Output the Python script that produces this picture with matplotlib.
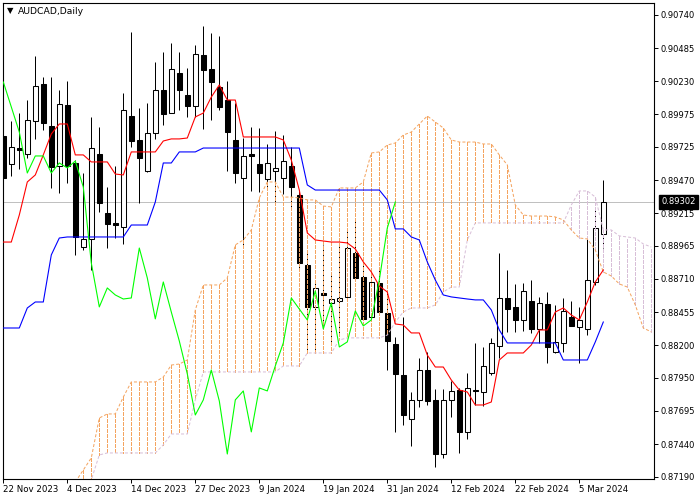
import matplotlib
matplotlib.use("Agg")
import matplotlib.pyplot as plt

# AUDCAD daily candles, 22 Nov 2023 .. 8 Mar 2024 (bar index 0..75)
opens = [0.89810, 0.89594, 0.89717, 0.89671, 0.89925, 0.90209, 0.89886, 0.89579, 0.90048, 0.89602,
         0.88956, 0.89018, 0.89671, 0.89218, 0.89141, 0.89110, 0.89963, 0.89779, 0.89540, 0.89833,
         0.90163, 0.89986, 0.90294, 0.90125, 0.90040, 0.90432, 0.90325, 0.90186, 0.90086, 0.89779,
         0.89487, 0.89671, 0.89594, 0.89479, 0.89540, 0.89487, 0.89579, 0.89356, 0.88818, 0.88495,
         0.88602, 0.88526, 0.88541, 0.88572, 0.88910, 0.88725, 0.88418, 0.88679, 0.88449, 0.88210,
         0.87972, 0.87634, 0.87780, 0.88010, 0.87780, 0.87364, 0.87780, 0.87856, 0.87534, 0.87856,
         0.87841, 0.87987, 0.88195, 0.88564, 0.88495, 0.88395, 0.88541, 0.88326, 0.88518, 0.88149,
         0.88218, 0.88418, 0.88341, 0.88326, 0.88687, 0.89056]
highs = [0.90132, 0.89925, 0.89986, 0.90086, 0.90425, 0.90263, 0.90263, 0.90163, 0.90232, 0.89625,
         0.89525, 0.89956, 0.89879, 0.89417, 0.89579, 0.90140, 0.90609, 0.90025, 0.90063, 0.90379,
         0.90455, 0.90525, 0.90455, 0.90332, 0.90509, 0.90655, 0.90602, 0.90579, 0.90232, 0.90063,
         0.89794, 0.89879, 0.89871, 0.89748, 0.89848, 0.89817, 0.89725, 0.89394, 0.88918, 0.88679,
         0.88972, 0.88764, 0.88987, 0.89095, 0.89164, 0.88818, 0.88741, 0.88795, 0.88626, 0.88264,
         0.88418, 0.87841, 0.88103, 0.88149, 0.87864, 0.87864, 0.87926, 0.87872, 0.87987, 0.88218,
         0.88187, 0.88256, 0.88910, 0.88779, 0.88672, 0.88679, 0.88702, 0.88572, 0.88610, 0.88510,
         0.88564, 0.88541, 0.88495, 0.89023, 0.89241, 0.89471]
lows = [0.89471, 0.89502, 0.89556, 0.89640, 0.89787, 0.89856, 0.89410, 0.89371, 0.89448, 0.88895,
        0.88933, 0.88779, 0.89225, 0.88948, 0.89025, 0.88979, 0.89725, 0.89294, 0.89533, 0.89787,
        0.89894, 0.89986, 0.90010, 0.89956, 0.89956, 0.89863, 0.89933, 0.90010, 0.89540, 0.89448,
        0.88972, 0.89387, 0.89379, 0.89410, 0.89287, 0.89364, 0.89256, 0.88779, 0.88164, 0.88164,
        0.88356, 0.88218, 0.88295, 0.88564, 0.88702, 0.88395, 0.88395, 0.88449, 0.88010, 0.87534,
        0.87587, 0.87426, 0.87726, 0.87741, 0.87264, 0.87334, 0.87649, 0.87372, 0.87480, 0.87741,
        0.87734, 0.87972, 0.88103, 0.88303, 0.88303, 0.88310, 0.88295, 0.88218, 0.88064, 0.88141,
        0.88149, 0.88349, 0.88064, 0.88279, 0.88664, 0.88948]
closes = [0.89487, 0.89725, 0.89702, 0.89933, 0.90194, 0.89910, 0.89571, 0.90056, 0.89579, 0.89033,
          0.89018, 0.89717, 0.89294, 0.89133, 0.89125, 0.90010, 0.89771, 0.89640, 0.89833, 0.90163,
          0.89979, 0.90325, 0.90163, 0.90040, 0.90440, 0.90317, 0.90225, 0.90033, 0.89840, 0.89525,
          0.89656, 0.89656, 0.89525, 0.89602, 0.89564, 0.89617, 0.89417, 0.88833, 0.88495, 0.88641,
          0.88587, 0.88556, 0.88564, 0.88948, 0.88718, 0.88403, 0.88687, 0.88456, 0.88233, 0.87980,
          0.87664, 0.87780, 0.88010, 0.87772, 0.87364, 0.87780, 0.87849, 0.87534, 0.87872, 0.87849,
          0.88041, 0.88218, 0.88564, 0.88479, 0.88395, 0.88618, 0.88326, 0.88526, 0.88187, 0.88226,
          0.88464, 0.88349, 0.88395, 0.88702, 0.89102, 0.89302]

# Ichimoku lines as drawn on the chart
tenkan = [0.88994, 0.88994, 0.89202, 0.89456, 0.89510, 0.89664, 0.89825, 0.89902, 0.89902, 0.89664,
          0.89664, 0.89610, 0.89610, 0.89610, 0.89517, 0.89510, 0.89687, 0.89687, 0.89687, 0.89687,
          0.89771, 0.89787, 0.89787, 0.89794, 0.89956, 0.89986, 0.90109, 0.90202, 0.90086, 0.90086,
          0.89802, 0.89802, 0.89802, 0.89802, 0.89802, 0.89779, 0.89625, 0.89394, 0.89064, 0.89010,
          0.89002, 0.88994, 0.88994, 0.88987, 0.88941, 0.88841, 0.88764, 0.88656, 0.88610, 0.88364,
          0.88356, 0.88295, 0.88295, 0.88125, 0.88033, 0.88033, 0.87933, 0.87856, 0.87841, 0.87741,
          0.87741, 0.87764, 0.88087, 0.88141, 0.88141, 0.88141, 0.88202, 0.88318, 0.88318, 0.88456,
          0.88487, 0.88433, 0.88395, 0.88533, 0.88687, 0.88779]
kijun = [0.88333, 0.88333, 0.88333, 0.88487, 0.88533, 0.88533, 0.88895, 0.89025, 0.89033, 0.89033,
         0.89033, 0.89033, 0.89033, 0.89033, 0.89033, 0.89033, 0.89125, 0.89125, 0.89125, 0.89302,
         0.89602, 0.89602, 0.89687, 0.89687, 0.89687, 0.89717, 0.89717, 0.89717, 0.89717, 0.89717,
         0.89717, 0.89717, 0.89717, 0.89717, 0.89717, 0.89717, 0.89717, 0.89717, 0.89433, 0.89394,
         0.89394, 0.89394, 0.89394, 0.89394, 0.89394, 0.89394, 0.89394, 0.89394, 0.89318, 0.89095,
         0.89095, 0.89033, 0.89010, 0.88841, 0.88702, 0.88587, 0.88572, 0.88564, 0.88556, 0.88549,
         0.88549, 0.88472, 0.88318, 0.88218, 0.88218, 0.88218, 0.88218, 0.88218, 0.88218, 0.88218,
         0.88087, 0.88087, 0.88087, 0.88087, 0.88226, 0.88379]

# Senkou spans, visible from bar 9 to bar 81 (26 bars ahead of price)
cloud_start = 9
span_a = [0.87149, 0.87241, 0.87334, 0.87641, 0.87672, 0.87672, 0.87802, 0.87918, 0.87918, 0.87918,
          0.87918, 0.87956, 0.88048, 0.88056, 0.88087, 0.88472, 0.88664, 0.88664, 0.88664, 0.88718,
          0.88972, 0.89010, 0.89087, 0.89333, 0.89456, 0.89456, 0.89340, 0.89340, 0.89333, 0.89318,
          0.89318, 0.89271, 0.89264, 0.89410, 0.89410, 0.89410, 0.89456, 0.89679, 0.89687, 0.89740,
          0.89756, 0.89817, 0.89840, 0.89902, 0.89963, 0.89917, 0.89871, 0.89779, 0.89763, 0.89763,
          0.89763, 0.89748, 0.89748, 0.89664, 0.89587, 0.89279, 0.89202, 0.89194, 0.89194, 0.89194,
          0.89187, 0.89164, 0.89087, 0.89025, 0.89018, 0.88933, 0.88764, 0.88733, 0.88672, 0.88648,
          0.88510, 0.88333, 0.88303]
span_b = [0.86933, 0.87010, 0.87165, 0.87357, 0.87372, 0.87372, 0.87372, 0.87372, 0.87372, 0.87372,
          0.87372, 0.87434, 0.87518, 0.87518, 0.87518, 0.87780, 0.87995, 0.87995, 0.87995, 0.87995,
          0.87995, 0.87995, 0.87995, 0.87995, 0.87995, 0.87995, 0.88041, 0.88041, 0.88041, 0.88141,
          0.88141, 0.88141, 0.88141, 0.88241, 0.88257, 0.88257, 0.88257, 0.88257, 0.88257, 0.88279,
          0.88379, 0.88456, 0.88487, 0.88487, 0.88487, 0.88510, 0.88610, 0.88648, 0.88648, 0.89010,
          0.89141, 0.89141, 0.89141, 0.89141, 0.89141, 0.89141, 0.89141, 0.89141, 0.89141, 0.89141,
          0.89141, 0.89141, 0.89279, 0.89387, 0.89387, 0.89340, 0.89087, 0.89087, 0.89041, 0.89033,
          0.89025, 0.88979, 0.88956]
chikou_shift = 26

date_ticks = [0, 8, 16, 24, 32, 40, 48, 56, 64, 72]
date_labels = ['22 Nov 2023', '4 Dec 2023', '14 Dec 2023', '27 Dec 2023', '9 Jan 2024',
               '19 Jan 2024', '31 Jan 2024', '12 Feb 2024', '22 Feb 2024', '5 Mar 2024']
price_ticks = [0.90740, 0.90485, 0.90230, 0.89975, 0.89725, 0.89470, 0.89215, 0.88965,
               0.88710, 0.88455, 0.88200, 0.87950, 0.87695, 0.87440, 0.87190]

plt.rcParams['font.family'] = ['DejaVu Sans']

fig = plt.figure(figsize=(7, 5), dpi=100)
ax = fig.add_axes([2.5 / 700, 21.5 / 500, 651 / 700, 476 / 500])

n = len(closes)
xs = list(range(n))
px = 0.72  # one pixel in points

# last price line
ax.axhline(closes[-1], color='#C0C0C0', lw=px, zorder=1)

# candles
ax.vlines(xs, lows, highs, color='black', lw=px, zorder=2)
bottoms = [min(o, c) for o, c in zip(opens, closes)]
heights = [max(abs(c - o), 0.00002) for o, c in zip(opens, closes)]
faces = ['white' if c >= o else 'black' for o, c in zip(opens, closes)]
ax.bar(xs, heights, bottom=bottoms, width=0.58, color=faces, edgecolor='black',
       linewidth=0.75, zorder=2.5)

# cloud: dashed vertical hatch, coloured by which span is on top
cx = list(range(cloud_start, cloud_start + len(span_a)))
hatch_cols = ['#F4A460' if a >= b else '#D8BFD8' for a, b in zip(span_a, span_b)]
ax.vlines(cx, span_a, span_b, colors=hatch_cols, lw=px, linestyles=[(0, (3, 2))],
          antialiased=False, zorder=3)
ax.plot(cx, span_a, color='#F4A460', lw=px, ls=(0, (3, 2)), zorder=3)
ax.plot(cx, span_b, color='#D8BFD8', lw=px, ls=(0, (3, 2)), zorder=3)

# tenkan / kijun / chikou
ax.plot(xs, tenkan, color='#FF0000', lw=0.8, zorder=4)
ax.plot(xs, kijun, color='#0000FF', lw=0.8, zorder=4)
ax.plot(xs[:n - chikou_shift], closes[chikou_shift:], color='#00FF00', lw=0.8, zorder=4)

ax.set_xlim(-0.1, 81.275)
ax.set_ylim(0.871756, 0.908361)

for s in ax.spines.values():
    s.set_linewidth(0.8)
    s.set_color('black')

ax.yaxis.tick_right()
ax.set_yticks(price_ticks)
ax.set_yticklabels([f'{p:.5f}' for p in price_ticks])
ax.tick_params(axis='y', direction='out', length=3, width=0.7, pad=2, labelsize=6)
ax.set_xticks(date_ticks)
ax.set_xticklabels(date_labels, ha='left')
ax.tick_params(axis='x', direction='out', length=3, width=0.7, pad=1.5, labelsize=6.2)

# current price tag on the axis
ax.text(1.012, closes[-1], f'{closes[-1]:.5f}', transform=ax.get_yaxis_transform(),
        color='white', fontsize=6, va='center', ha='left', zorder=6,
        bbox=dict(boxstyle='square,pad=0.3', fc='black', ec='black'))

fig.text(7 / 700, 1 - 11 / 500, '\u25bc', fontsize=6, va='center', ha='left')
fig.text(18 / 700, 1 - 11 / 500, 'AUDCAD,Daily', fontsize=6.7, va='center', ha='left')

fig.savefig('out.png', dpi=100, facecolor='white')
